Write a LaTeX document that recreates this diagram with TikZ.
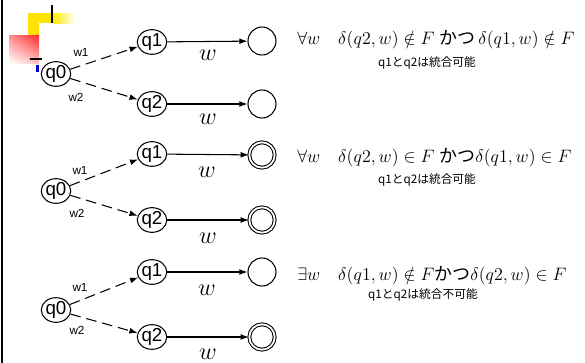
\documentclass[tikz,border=0pt]{standalone}
\usepackage{fontspec}
\setmainfont{Liberation Sans}
\newfontfamily\jfont{Noto Sans CJK JP}
\usetikzlibrary{arrows.meta,shapes.geometric,shadings}

\tikzset{
  state/.style={draw, ellipse, line width=0.9pt, inner sep=0pt, minimum width=0.87cm, minimum height=0.74cm, font=\fontsize{16}{16}\selectfont},
  final/.style={draw, circle, line width=0.9pt, inner sep=0pt, minimum size=0.84cm},
  accept/.style={draw, circle, line width=0.9pt, double, double distance=1.5pt, inner sep=0pt, minimum size=0.76cm},
  trans/.style={-{Latex[length=7pt,width=5pt]}, line width=0.9pt},
  eps/.style={trans, dash pattern=on 9pt off 5pt},
  wlab/.style={font=\fontsize{10}{10}\selectfont},
  wsym/.style={font=\fontsize{22}{22}\selectfont},
  cond/.style={anchor=west, inner sep=0pt, scale=1.065, transform shape, font=\fontsize{14.4}{14.4}\selectfont},
  note/.style={inner sep=0pt, font=\jfont\fontsize{10}{10}\selectfont}
}

\begin{document}
\begin{tikzpicture}[x=0.03cm, y=-0.03cm]
  \useasboundingbox (0,0) rectangle (585,363);

  % slide frame
  \draw[line width=2pt] (2,0) -- (2,363);
  \fill[yellow!85!orange] (28,13) rectangle (53,23);
  \fill[yellow!85!orange] (28,23) rectangle (39,35);
  \shade[left color=yellow!85!orange, right color=white] (53,13) rectangle (75,23);
  \shade[upper left=red!45, upper right=red!85, lower left=white, lower right=red!25] (9,35) rectangle (39,63);
  \draw[line width=2pt] (52,5) -- (52,23);
  \draw[line width=2pt] (30,59) -- (42,59);
  \fill[blue!80!black] (36,65) rectangle (39,72);

  % first case
  \node[state, fill=white] (q0a) at (56,74) {q0};
  \node[state] (q1a) at (152,42) {q1};
  \node[state] (q2a) at (152,104) {q2};
  \node[final] (f1a) at (262,41) {};
  \node[final] (f2a) at (262,104) {};
  \node[wlab] (w1a) at (81,52) {w1};
  \node[wlab] (w2a) at (76,97) {w2};
  \node[wsym] (wa) at (208,55) {$w$};
  \node[wsym] (wb) at (208,119) {$w$};

  \draw[eps] (q0a) -- (q1a);
  \draw[eps] (q0a) -- (q2a);
  \draw[trans] (q1a) -- (f1a);
  \draw[trans] (q2a) -- (f2a);

  \node[cond] (ca) at (297,40) {$\forall w\quad \delta(q2,w)\notin F$ {\jfont かつ}$\,\delta(q1,w)\notin F$};
  \node[note] (na) at (427,63) {q1とq2は統合可能};

  % second case
  \node[state] (q0b) at (56,191) {q0};
  \node[state] (q1b) at (152,154) {q1};
  \node[state] (q2b) at (152,220) {q2};
  \node[accept] (f1b) at (262,155) {};
  \node[accept] (f2b) at (262,220) {};
  \node[wlab] (w1b) at (80,170) {w1};
  \node[wlab] (w2b) at (77,213) {w2};
  \node[wsym] (wc) at (207,172) {$w$};
  \node[wsym] (wd) at (208,238) {$w$};

  \draw[eps] (q0b) -- (q1b);
  \draw[eps] (q0b) -- (q2b);
  \draw[trans] (q1b) -- (f1b);
  \draw[trans] (q2b) -- (f2b);

  \node[cond] (cb) at (297,158) {$\forall w\quad \delta(q2,w)\in F$ {\jfont かつ}$\delta(q1,w)\in F$};
  \node[note] (nb) at (427,180) {q1とq2は統合可能};

  % third case
  \node[state] (q0c) at (56,310) {q0};
  \node[state] (q1c) at (152,272) {q1};
  \node[state] (q2c) at (152,337) {q2};
  \node[final] (f1c) at (262,272) {};
  \node[accept] (f2c) at (262,337) {};
  \node[wlab] (w1c) at (80,287) {w1};
  \node[wlab] (w2c) at (77,330) {w2};
  \node[wsym] (we) at (207,290) {$w$};
  \node[wsym] (wf) at (208,354) {$w$};

  \draw[eps] (q0c) -- (q1c);
  \draw[eps] (q0c) -- (q2c);
  \draw[trans] (q1c) -- (f1c);
  \draw[trans] (q2c) -- (f2c);

  \node[cond] (cc) at (297,276) {$\exists w\quad \delta(q1,w)\notin F${\jfont かつ}$\delta(q2,w)\in F$};
  \node[note] (nc) at (423,295) {q1とq2は統合不可能};
\end{tikzpicture}
\end{document}
